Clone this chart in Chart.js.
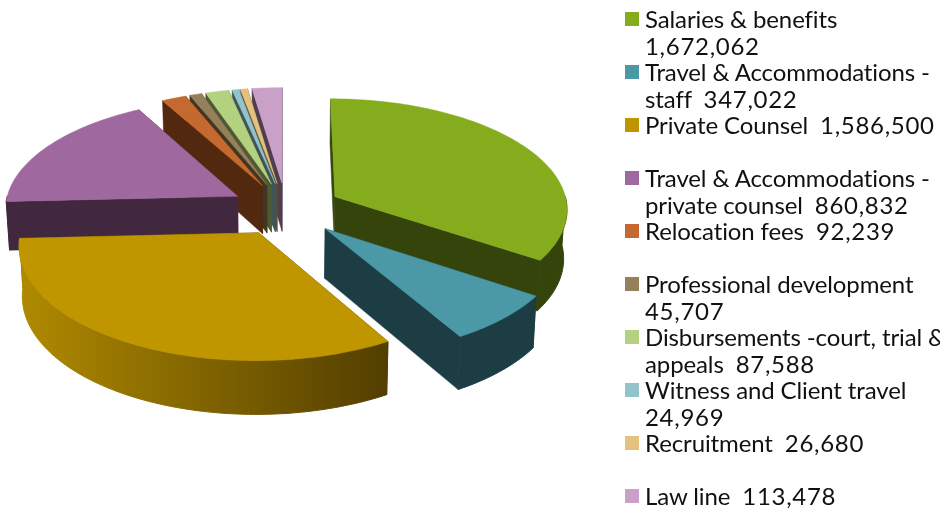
<!DOCTYPE html>
<html><head><meta charset="utf-8">
<script src="https://cdn.jsdelivr.net/npm/chart.js@4"></script>
<style>
html,body{margin:0;padding:0;background:#fff;width:940px;height:512px;overflow:hidden}
#c{position:absolute;left:0;top:0}
#legend{position:absolute;left:625px;top:6px;margin:0;padding:0;list-style:none;font-family:Lato,sans-serif;font-size:24px;line-height:26.5px;color:#111;letter-spacing:-.12px;white-space:pre}
#legend li{position:relative;height:53px;padding-left:20px}
#legend i{position:absolute;left:0;top:6px;width:14px;height:14px}
#legend b{font-weight:400;letter-spacing:.7px}
</style></head><body>
<canvas id="c" width="940" height="512"></canvas>
<ul id="legend"></ul>
<script>
const categories=["Salaries & benefits","Travel & Accommodations - staff","Private Counsel","Travel & Accommodations - private counsel","Relocation fees","Professional development","Disbursements -court, trial & appeals","Witness and Client travel","Recruitment","Law line"];
const values=[1672062,347022,1586500,860832,92239,45707,87588,24969,26680,113478];
const legendLines=[["Salaries & benefits","1,672,062"],["Travel & Accommodations -","staff  347,022"],["Private Counsel  1,586,500"],["Travel & Accommodations -","private counsel  860,832"],["Relocation fees  92,239"],["Professional development","45,707"],["Disbursements -court, trial &","appeals  87,588"],["Witness and Client travel","24,969"],["Recruitment  26,680"],["Law line  113,478"]];
const topColors=["#84ac1c","#4b99a6","#bf9600","#9f689e","#c4692f","#96805a","#b4d180","#93c3cb","#e5c17f","#c8a0c8"];
const wallColors=["#34440a","#1d3d44","#523e00","#42283f","#52280f","#403622","#4d5a33","#3d5459","#5c4e30","#4f3d50"];
const rimStart=["#34440a","#1d3d44","#b08a00","#42283f","#52280f","#403622","#4d5a33","#3d5459","#5c4e30","#4f3d50"];
const view={cx:286,cy:209,rx:233,ry:110,k:.10,depth:49,depthGrow:.08,taper:.012};
function project(u,v,z){
  const w=1/(1-view.k*v), t=1-view.taper*z;
  return [view.cx+view.rx*u*w*t, view.cy+view.ry*v*w+z*view.depth*(1+view.depthGrow*v)];
}
const pie3d={id:'pie3d',beforeDatasetDraw(chart,args){
  const ctx=chart.ctx, arcs=args.meta.data;
  const items=arcs.map((a,i)=>{
    const mid=(a.startAngle+a.endAngle)/2, off=a.options.offset/a.outerRadius;
    return {a,i,ox:off*Math.cos(mid),oy:off*Math.sin(mid)};
  }).sort((p,q)=>p.oy-q.oy);
  const rimPts=(it,s,e,z)=>{
    const pts=[],n=Math.max(2,Math.ceil((e-s)/0.02));
    for(let j=0;j<=n;j++){const t=s+(e-s)*j/n;pts.push(project(it.ox+Math.cos(t),it.oy+Math.sin(t),z));}
    return pts;
  };
  const fill=(pts,c,lw)=>{
    ctx.beginPath();pts.forEach((p,j)=>j?ctx.lineTo(p[0],p[1]):ctx.moveTo(p[0],p[1]));ctx.closePath();
    ctx.fillStyle=c;ctx.strokeStyle=c;ctx.lineWidth=lw;ctx.lineJoin='round';ctx.fill();ctx.stroke();
  };
  ctx.save();
  for(const it of items){
    const s=it.a.startAngle,e=it.a.endAngle,wall=wallColors[it.i];
    const A0=project(it.ox,it.oy,0),A1=project(it.ox,it.oy,1);
    for(const t of [s,e]){
      const B0=project(it.ox+Math.cos(t),it.oy+Math.sin(t),0),B1=project(it.ox+Math.cos(t),it.oy+Math.sin(t),1);
      fill([A0,B0,B1,A1],wall,.5);
    }
    const rs=Math.max(s,0),re=Math.min(e,Math.PI);
    if(re>rs){
      const up=rimPts(it,rs,re,0),dn=rimPts(it,rs,re,1).reverse(),all=up.concat(dn);
      const xs=all.map(p=>p[0]),g=ctx.createLinearGradient(Math.min(...xs),0,Math.max(...xs),0);
      g.addColorStop(0,rimStart[it.i]);g.addColorStop(1,wall);
      fill(all,g,1);
    }
    fill([A0].concat(rimPts(it,s,e,0)),topColors[it.i],.5);
  }
  ctx.restore();
  return false;
}};
new Chart(document.getElementById('c'),{type:'pie',
  data:{labels:categories,datasets:[{data:values,backgroundColor:topColors,borderWidth:0,offset:55}]},
  options:{responsive:false,animation:false,events:[],layout:{padding:0},plugins:{legend:{display:false},tooltip:{enabled:false}}},
  plugins:[pie3d]});
const ul=document.getElementById('legend');
legendLines.forEach((lines,i)=>{
  const li=document.createElement('li');
  const sw=document.createElement('i');sw.style.background=topColors[i];li.appendChild(sw);
  lines.forEach((line,n)=>{
    if(n)li.appendChild(document.createTextNode('\n'));
    const m=line.match(/^(.*?)([\d,]+)$/);
    if(m){
      li.appendChild(document.createTextNode(m[1]));
      const b=document.createElement('b');b.textContent=m[2];li.appendChild(b);
    }else li.appendChild(document.createTextNode(line));
  });
  ul.appendChild(li);
});
</script>
</body></html>
